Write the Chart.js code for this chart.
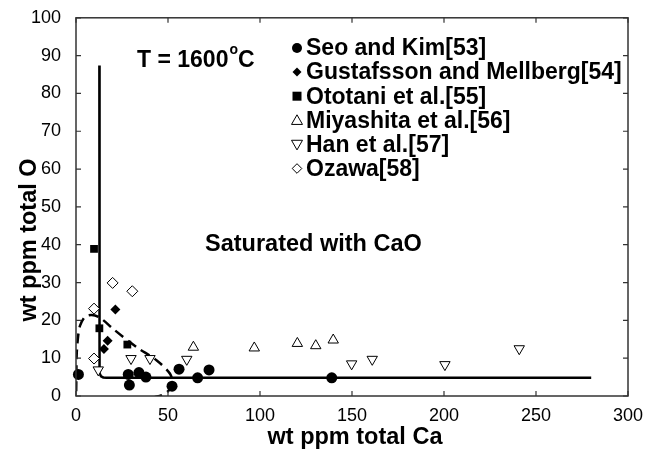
<!DOCTYPE html>
<html>
<head>
<meta charset="utf-8">
<script src="https://cdn.jsdelivr.net/npm/chart.js"></script>
<style>
  html, body { margin: 0; padding: 0; background: #fff; }
  #wrap { width: 654px; height: 451px; }
</style>
</head>
<body>
<div id="wrap"><canvas id="myChart" width="654" height="451"></canvas></div>
<script>
// values, [Ca, O] in wt ppm
const seoKim = [[1.3,5.7],[28.4,5.7],[29,2.9],[34.2,6.2],[38,5.0],[52.2,2.6],[56,7.1],[66.1,4.8],[72.3,6.9],[139,4.8]];
const gustafsson = [[21.4,22.9],[17.2,14.6],[15.2,12.4]];
const ototani = [[9.8,38.9],[12.7,17.9],[27.9,13.6]];
const miyashita = [[63.8,12.9],[96.9,12.7],[120.3,13.9],[130.3,13.3],[139.8,14.8]];
const han = [[12.1,6.9],[29.9,9.9],[40.2,9.9],[60.2,9.7],[149.8,8.5],[161,9.7],[200.5,8.3],[240.9,12.5]];
const ozawa = [[19.9,29.9],[30.6,27.7],[9.8,23.1],[9.8,9.9]];

// CaO saturation boundary (solid) and the dashed curve
const boundX = [12.7, 12.7, 12.9, 13.6, 14.8, 16.5, 280];
const boundY = [87.4, 7.2, 6.0, 5.2, 4.9, 4.8, 4.8];
const dashX = [0, 0.2, 0.4, 1.2, 2.2, 4.9, 8.5, 13, 20.3, 33, 43.9, 51.1, 52.3, 50.5, 47, 42, 30];
const dashY = [-3, 5, 11.2, 16, 18.6, 20.9, 21.4, 20.7, 17.7, 12.9, 9.4, 5.9, 3.5, 1.5, 0.3, -0.4, -2];

const xTicks = [0, 50, 100, 150, 200, 250, 300];
const yTicks = [0, 10, 20, 30, 40, 50, 60, 70, 80, 90, 100];

const labels = ['Seo and Kim[53]', 'Gustafsson and Mellberg[54]', 'Ototani et al.[55]',
  'Miyashita et al.[56]', 'Han et al.[57]', 'Ozawa[58]'];

function pts(arr) { return arr.map(p => ({x: p[0], y: p[1]})); }
function linePts(xs, ys) { return xs.map((x, i) => ({x: x, y: ys[i]})); }

const FONT = '"Liberation Sans", Arial, sans-serif';

// marker looks, used by chart and legend (r = plot size, lr = legend size)
const markers = [
  {style: 'circle', fill: true, r: 5.5, lr: 5},
  {style: 'rectRot', fill: true, r: 5, lr: 4.5},
  {style: 'rect', fill: true, r: 5.5, lr: 4.5},
  {style: 'triangle', fill: false, r: 6, lr: 5.5},
  {style: 'triangleDown', fill: false, r: 6, lr: 5.5},
  {style: 'rectRot', fill: false, r: 5.5, lr: 4.8}
];

const series = [seoKim, gustafsson, ototani, miyashita, han, ozawa];

let datasets = series.map((s, i) => {
  const m = markers[i];
  return {
    label: labels[i],
    type: 'scatter',
    data: pts(s),
    pointStyle: m.style === 'triangleDown' ? 'triangle' : m.style,
    rotation: m.style === 'triangleDown' ? 180 : 0,
    pointRadius: m.r,
    pointHoverRadius: m.r,
    pointBackgroundColor: m.fill ? '#000' : '#fff',
    pointBorderColor: '#000',
    pointBorderWidth: m.fill ? 0 : 1,
    clip: false
  };
});

datasets.push({
  label: 'boundary',
  type: 'line',
  data: linePts(boundX, boundY),
  borderColor: '#000',
  borderWidth: 2.5,
  pointRadius: 0,
  tension: 0,
  fill: false
});
datasets.push({
  label: 'dashed',
  type: 'line',
  data: linePts(dashX, dashY),
  borderColor: '#000',
  borderWidth: 2.5,
  borderDash: [10, 6],
  pointRadius: 0,
  tension: 0.3,
  fill: false,
  clip: 0
});

function drawMarker(ctx, m, x, y) {
  const r = m.lr;
  ctx.beginPath();
  if (m.style === 'circle') {
    ctx.arc(x, y, r, 0, Math.PI * 2);
  } else if (m.style === 'rect') {
    ctx.rect(x - r, y - r, r * 2, r * 2);
  } else if (m.style === 'rectRot') {
    ctx.moveTo(x, y - r); ctx.lineTo(x + r, y); ctx.lineTo(x, y + r); ctx.lineTo(x - r, y); ctx.closePath();
  } else if (m.style === 'triangle') {
    ctx.moveTo(x, y - r); ctx.lineTo(x + r, y + r * 0.75); ctx.lineTo(x - r, y + r * 0.75); ctx.closePath();
  } else if (m.style === 'triangleDown') {
    ctx.moveTo(x, y + r); ctx.lineTo(x + r, y - r * 0.75); ctx.lineTo(x - r, y - r * 0.75); ctx.closePath();
  }
  if (m.fill) { ctx.fillStyle = '#000'; ctx.fill(); }
  else { ctx.fillStyle = '#fff'; ctx.fill(); ctx.lineWidth = 1; ctx.strokeStyle = '#000'; ctx.stroke(); }
}

const frame = {
  id: 'frame',
  afterDraw(chart) {
    const ctx = chart.ctx;
    const a = chart.chartArea;
    const xs = chart.scales.x, ys = chart.scales.y;
    ctx.save();
    // box
    ctx.strokeStyle = '#333';
    ctx.lineWidth = 1.5;
    ctx.strokeRect(a.left, a.top, a.right - a.left, a.bottom - a.top);
    // inward ticks on all four sides
    ctx.lineWidth = 1.2;
    ctx.beginPath();
    xTicks.forEach(v => {
      const px = xs.getPixelForValue(v);
      ctx.moveTo(px, a.bottom); ctx.lineTo(px, a.bottom - 5);
      ctx.moveTo(px, a.top); ctx.lineTo(px, a.top + 5);
    });
    yTicks.forEach(v => {
      const py = ys.getPixelForValue(v);
      ctx.moveTo(a.left, py); ctx.lineTo(a.left + 5, py);
      ctx.moveTo(a.right, py); ctx.lineTo(a.right - 5, py);
    });
    ctx.stroke();

    ctx.fillStyle = '#000';
    // axis titles
    ctx.font = 'bold 23.5px ' + FONT;
    ctx.textAlign = 'center';
    ctx.textBaseline = 'middle';
    ctx.fillText('wt ppm total Ca', (a.left + a.right) / 2 + 3, 438);
    ctx.save();
    ctx.translate(30, 240);
    ctx.rotate(-Math.PI / 2);
    ctx.fillText('wt ppm total O', 0, 0);
    ctx.restore();

    // annotations
    ctx.textAlign = 'left';
    ctx.textBaseline = 'alphabetic';
    ctx.font = 'bold 23.5px ' + FONT;
    ctx.fillText('Saturated with CaO', 205, 251);
    const t1 = 'T = 1600';
    ctx.font = 'bold 23px ' + FONT;
    ctx.fillText(t1, 137, 67);
    let w = ctx.measureText(t1).width;
    ctx.font = 'bold 14px ' + FONT;
    ctx.fillText('o', 137 + w + 1, 54);
    let w2 = ctx.measureText('o').width;
    ctx.font = 'bold 23px ' + FONT;
    ctx.fillText('C', 137 + w + w2 + 1, 67);

    // legend
    ctx.font = 'bold 23px ' + FONT;
    ctx.textBaseline = 'middle';
    labels.forEach((lab, i) => {
      const ly = 48 + i * 24.1;
      drawMarker(ctx, markers[i], 297, ly);
      ctx.fillStyle = '#000';
      ctx.fillText(lab, 306, ly + 1);
    });
    ctx.restore();
  }
};

const myChart = new Chart(document.getElementById('myChart'), {
  type: 'scatter',
  data: { datasets: datasets },
  options: {
    responsive: false,
    animation: false,
    events: [],
    layout: { padding: { top: 13.5, right: 26, left: 0, bottom: 0 } },
    plugins: { legend: { display: false }, tooltip: { enabled: false } },
    scales: {
      x: {
        type: 'linear', min: 0, max: 300,
        afterBuildTicks: s => { s.ticks = xTicks.map(v => ({value: v})); },
        afterFit: s => { s.height = 55; },
        grid: { display: false },
        border: { display: false },
        ticks: { color: '#000', padding: 1, font: { size: 18, family: FONT } }
      },
      y: {
        type: 'linear', min: 0, max: 100,
        afterBuildTicks: s => { s.ticks = yTicks.map(v => ({value: v})); },
        afterFit: s => { s.width = 76; },
        grid: { display: false },
        border: { display: false },
        ticks: { color: '#000', padding: 7, font: { size: 18, family: FONT } }
      }
    }
  },
  plugins: [frame]
});
</script>
</body>
</html>
